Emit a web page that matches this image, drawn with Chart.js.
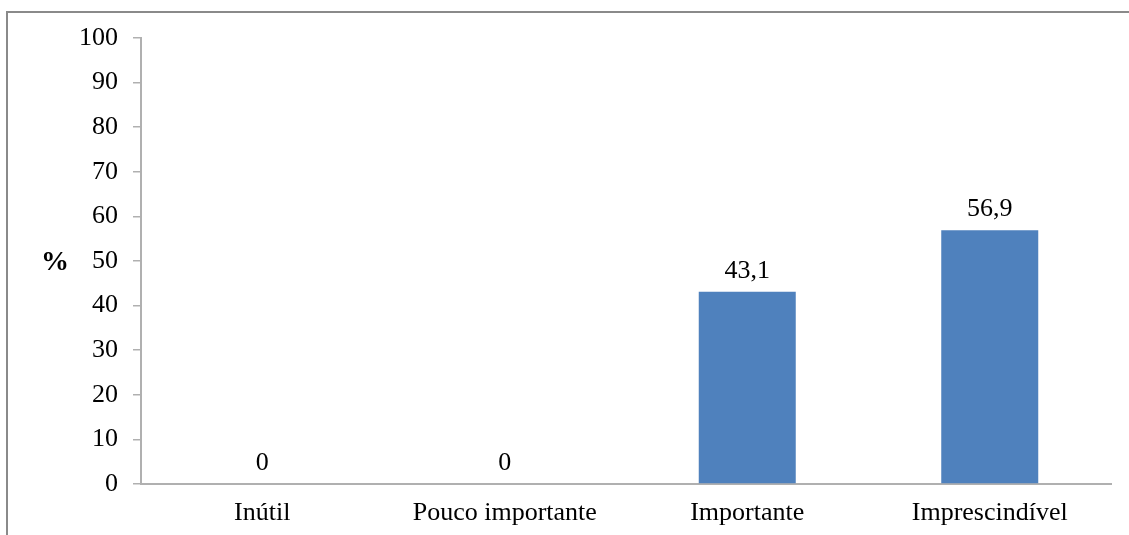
<!DOCTYPE html>
<html>
<head>
<meta charset="utf-8">
<script src="https://cdn.jsdelivr.net/npm/chart.js@4/dist/chart.umd.min.js"></script>
<style>
  html, body { margin: 0; padding: 0; background: #fff; }
  #chart { display: block; }
</style>
</head>
<body>
<canvas id="chart" width="1129" height="535"></canvas>
<script>
  var categories = ['Inútil', 'Pouco importante', 'Importante', 'Imprescindível'];
  var percentValues = [0, 0, 43.1, 56.9];
  var yTicks = [0, 10, 20, 30, 40, 50, 60, 70, 80, 90, 100];

  var serif = '"Liberation Serif", "Times New Roman", serif';
  var axisGray = '#b0b0b0';

  // outer frame + "%" label
  var framePlugin = {
    id: 'frame',
    beforeDraw: function (chart) {
      var ctx = chart.ctx;
      ctx.save();
      ctx.strokeStyle = '#8a8a8a';
      ctx.lineWidth = 2;
      ctx.beginPath();
      ctx.moveTo(7, chart.height + 2);
      ctx.lineTo(7, 12);
      ctx.lineTo(chart.width + 2, 12);
      ctx.stroke();
      ctx.restore();
    },
    afterDraw: function (chart) {
      var ctx = chart.ctx;
      var y = chart.scales.y.getPixelForValue(50);
      ctx.save();
      ctx.fillStyle = '#000';
      ctx.font = 'bold 28px ' + serif;
      ctx.textAlign = 'center';
      ctx.textBaseline = 'middle';
      ctx.fillText('%', 55, y + 2);
      ctx.restore();
    }
  };

  var valueLabels = {
    id: 'valueLabels',
    afterDatasetsDraw: function (chart) {
      var ctx = chart.ctx;
      var meta = chart.getDatasetMeta(0);
      ctx.save();
      ctx.fillStyle = '#000';
      ctx.font = '26px ' + serif;
      ctx.textAlign = 'center';
      ctx.textBaseline = 'alphabetic';
      meta.data.forEach(function (bar, i) {
        var txt = String(percentValues[i]).replace('.', ',');
        ctx.fillText(txt, bar.x, bar.y - 14);
      });
      ctx.restore();
    }
  };

  new Chart(document.getElementById('chart'), {
    type: 'bar',
    data: {
      labels: categories,
      datasets: [{
        data: percentValues,
        backgroundColor: '#4f81bd',
        borderWidth: 0,
        barPercentage: 0.4,
        categoryPercentage: 1
      }]
    },
    options: {
      responsive: false,
      animation: false,
      layout: { padding: { top: 38, right: 18, left: 0, bottom: 0 } },
      plugins: {
        legend: { display: false },
        tooltip: { enabled: false }
      },
      scales: {
        x: {
          grid: { drawOnChartArea: false, drawTicks: false },
          border: { color: axisGray, width: 2 },
          ticks: {
            color: '#000',
            font: { family: serif, size: 26 },
            padding: 14,
            maxRotation: 0
          },
          afterFit: function (scale) { scale.height = 51; }
        },
        y: {
          min: 0,
          max: 100,
          afterBuildTicks: function (scale) {
            scale.ticks = yTicks.map(function (v) { return { value: v }; });
          },
          grid: { drawOnChartArea: false, drawTicks: true, tickLength: 8, color: axisGray, lineWidth: 1.5 },
          border: { color: axisGray, width: 2 },
          ticks: {
            color: '#000',
            font: { family: serif, size: 26 },
            padding: 15
          },
          afterFit: function (scale) { scale.width = 141; }
        }
      }
    },
    plugins: [framePlugin, valueLabels]
  });
</script>
</body>
</html>
